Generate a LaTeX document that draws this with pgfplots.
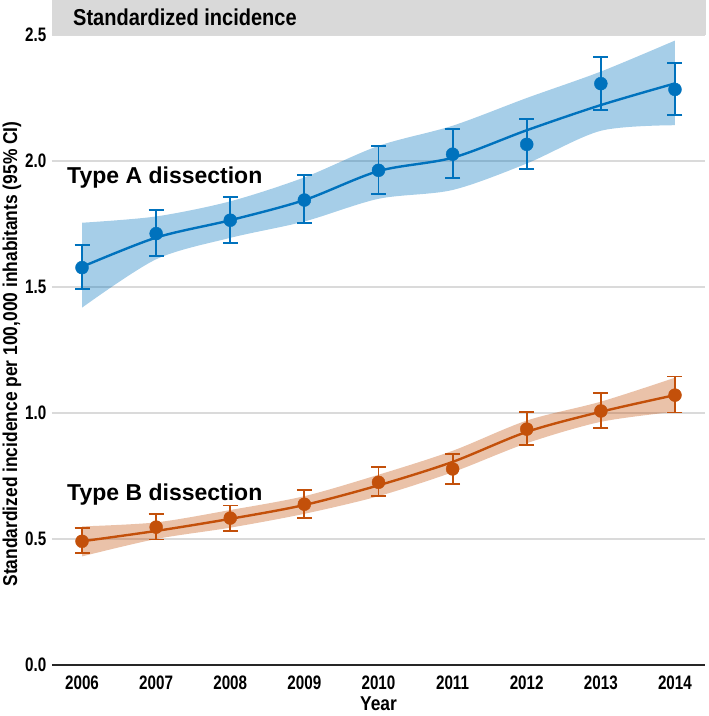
\documentclass[border=0pt]{standalone}
\usepackage{pgfplots}
\pgfplotsset{compat=1.18}
\usepackage{pgfplotstable}
\usepgfplotslibrary{fillbetween}
\usepackage{fontspec}
\setmainfont{Liberation Sans}
\newfontfamily\narrowfont{Liberation Sans}[FakeStretch=0.78]
\newfontfamily\semifont{Liberation Sans}[FakeStretch=0.87]
\definecolor{cA}{RGB}{0,114,189}
\definecolor{cB}{RGB}{195,80,10}
\definecolor{stripc}{RGB}{217,217,217}
\definecolor{gridc}{RGB}{218,218,218}

% observed points with 95% CI (plus / minus)
\pgfplotstableread{
year y ep em
2006 1.577 0.088 0.084
2007 1.712 0.092 0.088
2008 1.765 0.092 0.089
2009 1.845 0.098 0.090
2010 1.963 0.098 0.095
2011 2.027 0.100 0.094
2012 2.066 0.101 0.097
2013 2.307 0.107 0.103
2014 2.284 0.106 0.100
}\ptA
\pgfplotstableread{
year y ep em
2006 0.491 0.051 0.046
2007 0.547 0.052 0.049
2008 0.583 0.050 0.053
2009 0.638 0.056 0.053
2010 0.725 0.059 0.054
2011 0.778 0.060 0.060
2012 0.936 0.068 0.064
2013 1.008 0.071 0.066
2014 1.071 0.074 0.069
}\ptB
% smoothed fit with band
\pgfplotstableread{
year fit lo hi
2006 1.580 1.418 1.755
2007 1.696 1.610 1.780
2008 1.765 1.695 1.840
2009 1.845 1.760 1.935
2010 1.960 1.850 2.060
2011 2.013 1.885 2.140
2012 2.122 1.990 2.250
2013 2.222 2.120 2.355
2014 2.308 2.142 2.478
}\fitA
\pgfplotstableread{
year fit lo hi
2006 0.491 0.431 0.550
2007 0.532 0.500 0.566
2008 0.580 0.545 0.615
2009 0.635 0.600 0.670
2010 0.713 0.670 0.755
2011 0.806 0.765 0.850
2012 0.925 0.880 0.970
2013 1.005 0.965 1.045
2014 1.071 1.005 1.140
}\fitB

\begin{document}
\begin{tikzpicture}
\begin{axis}[
  at={(0pt,0pt)}, anchor=south west,
  scale only axis, width=653pt, height=630pt,
  xmin=2005.595, xmax=2014.405, ymin=0, ymax=2.5,
  xtick={2006,2007,...,2014}, ytick={0,0.5,1,1.5,2,2.5},
  axis x line*=bottom, axis y line*=left,
  x axis line style={-, line width=1.5pt, color=black!85},
  y axis line style={draw=none},
  major tick length=0pt,
  ymajorgrids, grid style={gridc, line width=2pt},
  /pgf/number format/assume math mode=true,
  xticklabel style={font=\narrowfont\bfseries\fontsize{19.5}{19.5}\selectfont,
     inner sep=0pt, anchor=north, yshift=-11pt,
     /pgf/number format/1000 sep={}},
  yticklabel style={font=\narrowfont\bfseries\fontsize{19.5}{19.5}\selectfont,
     inner sep=0pt, anchor=east, xshift=-5.5pt,
     /pgf/number format/.cd, fixed, fixed zerofill, precision=1},
  clip=false,
]
% Type A band
\addplot[name path=Ahi, draw=none, smooth, forget plot] table[x=year, y=hi] {\fitA};
\addplot[name path=Alo, draw=none, smooth, forget plot] table[x=year, y=lo] {\fitA};
\addplot[cA, fill opacity=0.35, draw=none, forget plot] fill between[of=Ahi and Alo];
% Type B band
\addplot[name path=Bhi, draw=none, smooth, forget plot] table[x=year, y=hi] {\fitB};
\addplot[name path=Blo, draw=none, smooth, forget plot] table[x=year, y=lo] {\fitB};
\addplot[cB, fill opacity=0.35, draw=none, forget plot] fill between[of=Bhi and Blo];
% fit lines
\addplot[cA, line width=2.4pt, smooth, no marks] table[x=year, y=fit] {\fitA};
\addplot[cB, line width=2.4pt, smooth, no marks] table[x=year, y=fit] {\fitB};
% points with error bars
\addplot[cA, only marks, mark=*, mark size=6.5pt,
  error bars/.cd, y dir=both, y explicit,
  error bar style={line width=1.9pt, cA},
  error mark options={line width=1.9pt, mark size=7.5pt, cA, rotate=90}]
  table[x=year, y=y, y error plus=ep, y error minus=em] {\ptA};
\addplot[cB, only marks, mark=*, mark size=6.5pt,
  error bars/.cd, y dir=both, y explicit,
  error bar style={line width=1.9pt, cB},
  error mark options={line width=1.9pt, mark size=7.5pt, cB, rotate=90}]
  table[x=year, y=y, y error plus=ep, y error minus=em] {\ptB};
% series labels
\node[anchor=base west, inner sep=0pt, font=\bfseries\fontsize{23}{23}\selectfont]
  at (axis cs:2005.798,1.911) {Type A dissection};
\node[anchor=base west, inner sep=0pt, font=\bfseries\fontsize{23}{23}\selectfont]
  at (axis cs:2005.798,0.652) {Type B dissection};
\end{axis}
% facet strip
\fill[stripc] (0pt,630pt) rectangle (654pt,665pt);
\node[anchor=west, inner sep=0pt, font=\semifont\bfseries\fontsize{23}{23}\selectfont]
  at (21pt,648pt) {Standardized incidence};
% axis titles
\node[rotate=90, inner sep=0pt, font=\semifont\bfseries\fontsize{20}{20}\selectfont]
  at (-40pt,311pt) {Standardized incidence per 100,000 inhabitants (95\% CI)};
\node[anchor=base, inner sep=0pt, font=\semifont\bfseries\fontsize{20}{20}\selectfont]
  at (326.5pt,-45pt) {Year};
\path (-52pt,-51pt) rectangle (657pt,665pt);
\end{tikzpicture}
\end{document}
